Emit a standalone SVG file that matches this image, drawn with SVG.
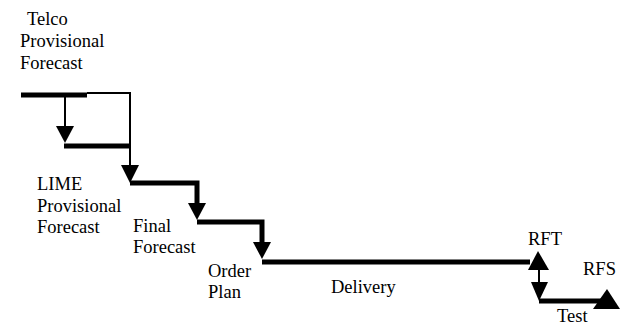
<svg xmlns="http://www.w3.org/2000/svg" width="625" height="328" viewBox="0 0 625 328">
<style>
.lbl{font-family:'Liberation Serif','Times New Roman',serif;font-size:18.5px;fill:#000}
.thick{stroke:#000;stroke-width:5;fill:none}
.thin{stroke:#000;stroke-width:2;fill:none}
.head{fill:#000}
</style>
<rect width="625" height="328" fill="#fff"/>
<g id="telco" class="lbl"><text x="27" y="25">Telco</text><text x="20" y="47">Provisional</text><text x="20" y="69">Forecast</text></g>
<g id="lime" class="lbl"><text x="37" y="190">LIME</text><text x="37" y="212">Provisional</text><text x="37" y="233">Forecast</text></g>
<g id="final" class="lbl"><text x="133" y="232">Final</text><text x="133" y="253">Forecast</text></g>
<g id="order" class="lbl"><text x="208" y="277">Order</text><text x="208" y="298">Plan</text></g>
<g id="delivery" class="lbl"><text x="331" y="293">Delivery</text></g>
<g id="rft" class="lbl"><text x="528" y="245">RFT</text></g>
<g id="rfs" class="lbl"><text x="583" y="275">RFS</text></g>
<g id="test" class="lbl"><text x="557" y="322">Test</text></g>
<g id="connectors">
<line class="thick" x1="21" y1="95" x2="87" y2="95"/>
<polyline class="thin" points="87,93 130,93 130,170"/>
<line class="thin" x1="65" y1="95" x2="65" y2="130"/>
<polygon class="head" points="56,126 74,126 65,143"/>
<polyline class="thick" points="64,146 130,146"/>
<polygon class="head" points="121,165 139,165 130,183"/>
<polyline class="thick" points="130,183 197,183 197,205"/>
<polygon class="head" points="188,203 206,203 197,220"/>
<polyline class="thick" points="197,222 262,222 262,245"/>
<polygon class="head" points="253,242 271,242 262,259"/>
<polyline class="thick" points="262,262 530,262"/>
<polygon class="head" points="538,251 528,270 549,270"/>
<line class="thin" x1="539" y1="268" x2="539" y2="285"/>
<polygon class="head" points="531,282 548,282 539,301"/>
<polyline class="thick" points="539,301 605,301"/>
<polygon class="head" points="607,289 593,309 620,309"/>
</g>
</svg>
